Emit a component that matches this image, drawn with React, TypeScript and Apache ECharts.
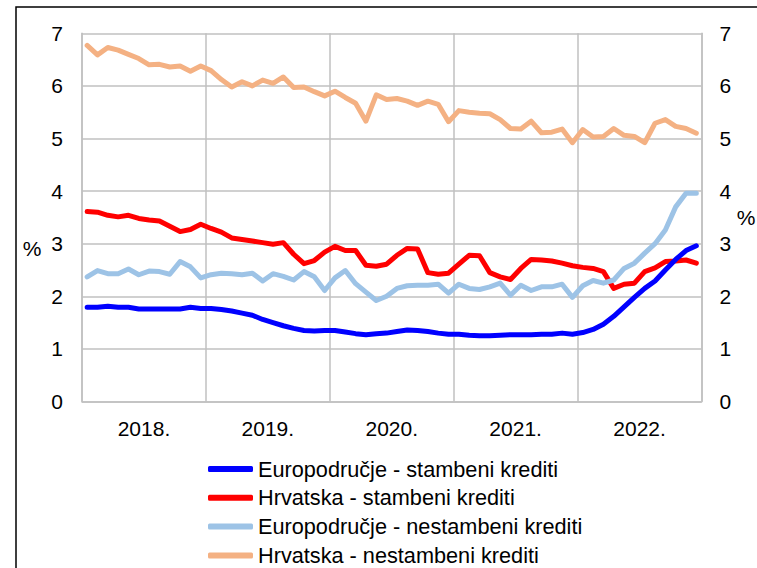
import React, { useEffect, useRef } from "react";
import * as echarts from "echarts";

const years = ["2018.", "2019.", "2020.", "2021.", "2022."];
const seriesNames = [
  "Europodručje - stambeni krediti",
  "Hrvatska - stambeni krediti",
  "Europodručje - nestambeni krediti",
  "Hrvatska - nestambeni krediti",
];
const yTicks = [0, 1, 2, 3, 4, 5, 6, 7];

const euroStambeni = [
  1.79, 1.79, 1.81, 1.79, 1.79, 1.76, 1.76, 1.76, 1.76, 1.76, 1.79, 1.77,
  1.77, 1.75, 1.72, 1.68, 1.64, 1.56, 1.5, 1.44, 1.39, 1.35, 1.34, 1.35,
  1.35, 1.32, 1.29, 1.27, 1.29, 1.3, 1.33, 1.36, 1.35, 1.33, 1.3, 1.28,
  1.28, 1.26, 1.25, 1.25, 1.26, 1.27, 1.27, 1.27, 1.28, 1.28, 1.3, 1.28,
  1.31, 1.37, 1.47, 1.62, 1.8, 1.98, 2.15, 2.29, 2.5, 2.7, 2.87, 2.96,
];
const hrStambeni = [
  3.61, 3.6, 3.54, 3.51, 3.54, 3.48, 3.45, 3.43, 3.33, 3.23, 3.27, 3.37,
  3.29, 3.22, 3.11, 3.08, 3.05, 3.02, 2.99, 3.02, 2.8, 2.62, 2.68, 2.84,
  2.95, 2.87, 2.87, 2.59, 2.57, 2.61, 2.78, 2.91, 2.9, 2.45, 2.42, 2.44,
  2.61, 2.78, 2.77, 2.45, 2.37, 2.32, 2.53, 2.7, 2.69, 2.67, 2.63, 2.58,
  2.55, 2.53, 2.47, 2.15, 2.23, 2.25, 2.47, 2.54, 2.66, 2.67, 2.69, 2.63,
];
const euroNestambeni = [
  2.37, 2.49, 2.43, 2.43, 2.52, 2.41, 2.48, 2.47, 2.42, 2.66, 2.56, 2.35,
  2.41, 2.44, 2.43, 2.41, 2.44, 2.29, 2.43, 2.38, 2.31, 2.47, 2.37, 2.11,
  2.35, 2.49, 2.24, 2.08, 1.92, 2.0, 2.15, 2.2, 2.21, 2.21, 2.23, 2.06,
  2.23, 2.15, 2.13, 2.18, 2.25, 2.02, 2.21, 2.11, 2.18, 2.18, 2.23, 1.98,
  2.2, 2.3, 2.25, 2.31, 2.53, 2.63, 2.82, 3.0, 3.26, 3.7, 3.96, 3.96,
];
const hrNestambeni = [
  6.77, 6.59, 6.73, 6.68, 6.6, 6.52, 6.4, 6.41, 6.36, 6.38, 6.28, 6.38,
  6.29, 6.12, 5.98, 6.08, 6.0, 6.11, 6.05, 6.17, 5.97, 5.98, 5.89, 5.81,
  5.9, 5.78, 5.67, 5.33, 5.83, 5.74, 5.76, 5.71, 5.63, 5.71, 5.65, 5.32,
  5.53, 5.5, 5.48, 5.47, 5.36, 5.19, 5.18, 5.33, 5.11, 5.12, 5.18, 4.92,
  5.17, 5.03, 5.04, 5.19, 5.06, 5.04, 4.92, 5.29, 5.36, 5.23, 5.19, 5.1,
];
const colors = ["#0000FF", "#FF0000", "#9DC3E6", "#F4B183"];

const months = years.flatMap((y) =>
  Array.from({ length: 12 }, (_, m) => `${y}${m + 1}`)
);

const FONT = "Liberation Sans, Arial, sans-serif";

export default function App() {
  const ref = useRef<HTMLDivElement>(null);
  useEffect(() => {
    if (!ref.current) return;
    const chart = echarts.init(ref.current, null, { renderer: "svg" });
    const gridColor = "#C0C0C0";
    const dataSets = [euroStambeni, hrStambeni, euroNestambeni, hrNestambeni];
    const zs = [4, 2, 3, 1];
    chart.setOption({
      animation: false,
      textStyle: { fontFamily: FONT },
      grid: { left: 82, right: 55.5, top: 33.3, bottom: 166.5, containLabel: false },
      xAxis: [
        {
          type: "category",
          data: years,
          boundaryGap: true,
          axisLine: { show: true, lineStyle: { color: gridColor, width: 1.5 } },
          axisTick: { show: false },
          axisLabel: { color: "#000", fontSize: 21, fontFamily: FONT, margin: 16 },
          splitLine: { show: true, lineStyle: { color: gridColor, width: 1.5 } },
        },
        {
          type: "category",
          data: months,
          boundaryGap: true,
          show: false,
        },
      ],
      yAxis: [
        {
          type: "value",
          min: yTicks[0],
          max: yTicks[yTicks.length - 1],
          interval: 1,
          axisLine: { show: true, lineStyle: { color: gridColor, width: 1.5 } },
          axisTick: { show: false },
          axisLabel: { color: "#000", fontSize: 21, fontFamily: FONT, margin: 19 },
          splitLine: { show: true, lineStyle: { color: gridColor, width: 1.5 } },
        },
        {
          type: "value",
          position: "right",
          min: yTicks[0],
          max: yTicks[yTicks.length - 1],
          interval: 1,
          axisLine: { show: true, lineStyle: { color: gridColor, width: 1.5 } },
          axisTick: { show: false },
          axisLabel: { color: "#000", fontSize: 21, fontFamily: FONT, margin: 18 },
          splitLine: { show: false },
        },
      ],
      legend: {
        orient: "vertical",
        left: 208,
        top: 458,
        height: 130,
        padding: 0,
        itemWidth: 45,
        itemHeight: 6,
        itemGap: 6.8,
        icon: "roundRect",
        textStyle: { color: "#000", fontSize: 21.7, fontFamily: FONT, lineHeight: 21.7 },
        data: seriesNames,
      },
      graphic: [
        {
          type: "rect",
          shape: { x: 16, y: 7, width: 900, height: 700 },
          style: { fill: "none", stroke: "#000", lineWidth: 1.5 },
          silent: true,
        },
        {
          type: "text",
          x: 32,
          y: 248,
          style: {
            text: "%",
            fill: "#000",
            font: `21px ${FONT}`,
            align: "center",
            verticalAlign: "middle",
          },
        },
        {
          type: "text",
          x: 746,
          y: 217,
          style: {
            text: "%",
            fill: "#000",
            font: `21px ${FONT}`,
            align: "center",
            verticalAlign: "middle",
          },
        },
      ],
      series: seriesNames.map((name, i) => ({
        name,
        type: "line",
        xAxisIndex: 1,
        yAxisIndex: 0,
        data: dataSets[i],
        showSymbol: false,
        symbol: "none",
        z: zs[i],
        color: colors[i],
        lineStyle: { color: colors[i], width: 5, cap: "round", join: "round" },
      })),
    });
    return () => chart.dispose();
  }, []);
  return (
    <div
      ref={ref}
      style={{ position: "fixed", left: 0, top: 0, width: 757, height: 568, background: "#fff" }}
    />
  );
}
